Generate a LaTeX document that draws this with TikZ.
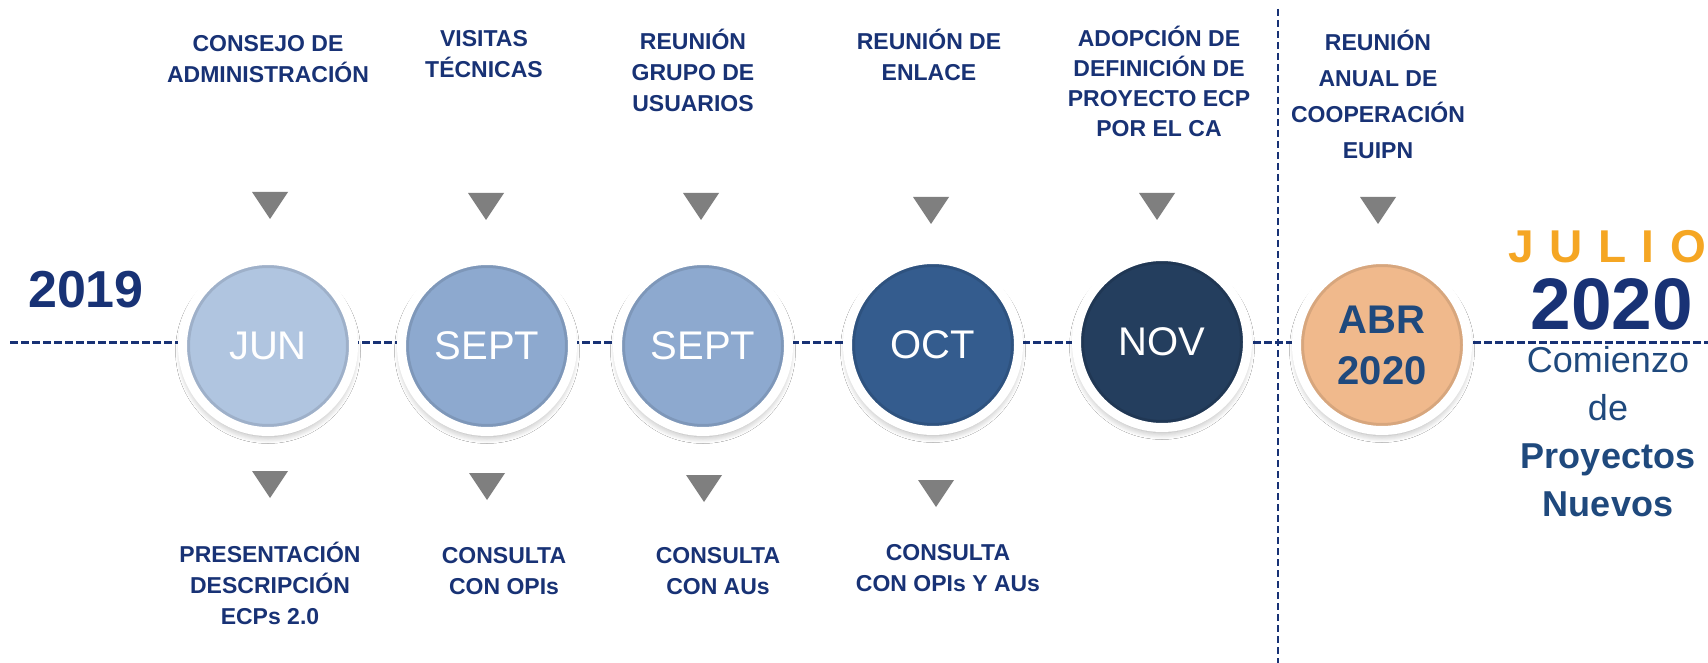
\documentclass[tikz,border=0pt]{standalone}
\usepackage{fontspec}
\setmainfont{Liberation Sans}
\usepackage{tikz}
\usetikzlibrary{arrows.meta,shadows.blur}

\definecolor{navy}{RGB}{24,50,117}
\definecolor{deepblue}{RGB}{31,73,125}
\definecolor{markgray}{RGB}{127,127,127}
\definecolor{julorange}{RGB}{245,166,35}
\definecolor{junfill}{RGB}{176,197,224}
\definecolor{septfill}{RGB}{141,169,207}
\definecolor{octfill}{RGB}{52,92,142}
\definecolor{novfill}{RGB}{36,62,94}
\definecolor{abrfill}{RGB}{240,185,140}

\begin{document}
\begin{tikzpicture}[>=Latex, x=0.5pt, y=-0.5pt,
  month/.style={circle, minimum size=85.5pt, inner sep=0pt, draw=white, line width=4.5pt,
    blur shadow={shadow xshift=0pt, shadow yshift=-2.5pt, shadow blur radius=3.5pt,
      shadow opacity=35, shadow blur steps=8},
    path picture={\draw[black, opacity=0.1, line width=2pt]
      (path picture bounding box.center) circle[radius=40pt];},
    text=white, font=\fontsize{20}{24}\selectfont},
  event/.style={anchor=base, align=center, inner sep=0pt, text=navy,
    font=\bfseries\fontsize{11.5}{15.5}\selectfont},
  marker/.style={fill=markgray},
  axis/.style={draw=navy, line width=1.5pt, dash pattern=on 4pt off 1.5pt}]
  \path[fill=white, use as bounding box] (0,0) rectangle (1708,663);

  % Timeline axis and split line
  \coordinate (axisL) at (10,342);
  \coordinate (axisR) at (1708,342);
  \coordinate (splitT) at (1278,9);
  \coordinate (splitB) at (1278,663);
  \draw[axis] (axisL) -- (axisR);
  \draw[axis, line width=1.2pt, dash pattern=on 3.5pt off 2pt] (splitT) -- (splitB);

  % Month circles
  \node[month, fill=junfill] (jun) at (268,346) {JUN};
  \node[month, fill=septfill] (sep) at (487,346) {SEPT};
  \node[month, fill=septfill] (sepb) at (703,346) {SEPT};
  \node[month, fill=octfill] (oct) at (933,345) {OCT};
  \node[month, fill=novfill] (nov) at (1162,342) {NOV};
  \node[month, fill=abrfill, text=deepblue, align=center,
    font=\bfseries\fontsize{20}{25.5}\selectfont] (abr) at (1382,345) {ABR\\2020};

  % Markers above
  \fill[marker] (252,192) -- ++(36,0) -- ++(-18,27) -- cycle;
  \fill[marker] (468,193) -- ++(36,0) -- ++(-18,27) -- cycle;
  \fill[marker] (683,193) -- ++(36,0) -- ++(-18,27) -- cycle;
  \fill[marker] (913,197) -- ++(36,0) -- ++(-18,27) -- cycle;
  \fill[marker] (1139,193) -- ++(36,0) -- ++(-18,27) -- cycle;
  \fill[marker] (1360,197) -- ++(36,0) -- ++(-18,27) -- cycle;
  % Markers below
  \fill[marker] (252,471) -- ++(36,0) -- ++(-18,27) -- cycle;
  \fill[marker] (469,473) -- ++(36,0) -- ++(-18,27) -- cycle;
  \fill[marker] (686,475) -- ++(36,0) -- ++(-18,27) -- cycle;
  \fill[marker] (918,480) -- ++(36,0) -- ++(-18,27) -- cycle;

  % Events above (base = last line)
  \node[event] (consejo) at (268,83) {CONSEJO DE\\ADMINISTRACIÓN};
  \node[event] (visitas) at (484,78) {VISITAS\\TÉCNICAS};
  \node[event] (grupo) at (693,112) {REUNIÓN\\GRUPO DE\\USUARIOS};
  \node[event] (enlace) at (929,81) {REUNIÓN DE\\ENLACE};
  \node[event, font=\bfseries\fontsize{11.5}{15}\selectfont] (adopcion) at (1159,137)
    {ADOPCIÓN DE\\DEFINICIÓN DE\\PROYECTO ECP\\POR EL CA};
  \node[event, font=\bfseries\fontsize{11.5}{18}\selectfont] (anual) at (1378,159)
    {REUNIÓN\\ANUAL DE\\COOPERACIÓN\\EUIPN};

  % Events below
  \node[event] (present) at (270,624) {PRESENTACIÓN\\DESCRIPCIÓN\\ECPs 2.0};
  \node[event] (opis) at (504,594) {CONSULTA\\CON OPIs};
  \node[event] (aus) at (718,594) {CONSULTA\\CON AUs};
  \node[event] (opisaus) at (948,591) {CONSULTA\\CON OPIs Y AUs};

  % Years
  \node[anchor=base, inner sep=0pt, text=navy, font=\bfseries\fontsize{26}{30}\selectfont] (y2019) at (86,307) {2019};
  \node[anchor=base, inner sep=0pt, text=julorange, font=\bfseries\fontsize{23}{27}\selectfont] (julio) at (1607,263)
    {J\hskip7.8pt U\hskip7.8pt L\hskip7.8pt I\hskip7.8pt O};
  \node[anchor=base, inner sep=0pt, text=navy, font=\bfseries\fontsize{36.5}{40}\selectfont] (y2020) at (1612,329) {2020};
  \node[anchor=base, align=center, inner sep=0pt, text=deepblue, font=\fontsize{18}{24}\selectfont] (start) at (1608,516)
    {Comienzo\\de\\\textbf{Proyectos}\\\textbf{Nuevos}};
\end{tikzpicture}
\end{document}
